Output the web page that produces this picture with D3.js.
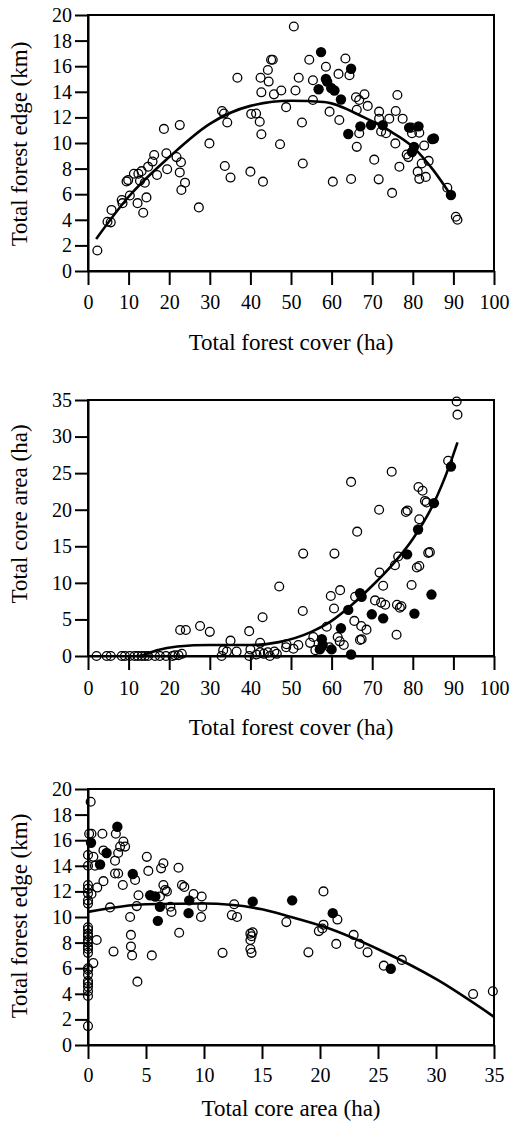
<!DOCTYPE html>
<html>
<head>
<meta charset="utf-8">
<script src="https://cdn.jsdelivr.net/npm/d3@7"></script>
<style>
  body { margin: 0; background: #fff; }
  svg { display: block; }
</style>
</head>
<body>
<div id="chart"></div>
<script>
// ---- data ----
const coverTicks = [0, 10, 20, 30, 40, 50, 60, 70, 80, 90, 100];
const edgeTicks  = [0, 2, 4, 6, 8, 10, 12, 14, 16, 18, 20];
const coreTicks  = [0, 5, 10, 15, 20, 25, 30, 35];

// panel 1: forest edge (km) vs forest cover (ha)
const edgeOpen = [
  [2.3,1.6],[4.8,3.85],[5.6,3.8],[5.8,4.77],[8.3,5.55],[8.5,5.3],[10.3,5.9],[9.5,7.0],[9.9,7.1],
  [11.3,7.6],[12.4,7.6],[13.2,7.8],[12.8,7.05],[14.0,6.9],[12.2,5.3],[13.6,4.55],[14.4,5.75],
  [14.8,8.15],[15.9,8.55],[16.3,9.06],[17.0,7.5],[18.7,11.1],[19.3,9.2],[19.5,7.95],[21.8,8.9],
  [22.6,11.4],[22.9,8.5],[22.6,7.7],[23.9,6.9],[23.0,6.33],[27.3,4.97],[29.9,9.97],[33.0,12.5],
  [33.5,12.3],[34.3,11.6],[33.7,8.2],[35.1,7.3],[36.8,15.1],[40.0,7.76],[40.2,12.27],[41.4,12.3],
  [42.3,11.66],[42.7,10.68],[43.1,6.98],[42.5,15.1],[44.3,15.7],[44.5,14.8],[45.1,16.5],[45.5,16.5],
  [45.8,13.8],[42.7,13.96],[47.3,9.9],[47.6,14.1],[48.8,12.8],[50.7,19.1],[51.1,14.1],[51.9,15.1],
  [52.7,11.6],[52.9,8.4],[54.5,16.5],[55.4,14.9],[55.4,13.36],[58.6,15.96],[59.5,12.45],[60.3,6.98],
  [61.7,15.4],[61.9,11.8],[63.4,16.6],[64.4,15.3],[64.8,7.19],[66.0,13.57],[66.8,13.36],[68.1,13.8],
  [68.9,12.9],[66.2,12.6],[66.8,10.76],[66.2,9.7],[70.5,8.7],[71.6,7.16],[71.7,12.45],[71.7,11.9],
  [72.2,10.9],[73.4,10.76],[74.2,11.9],[74.9,6.1],[75.7,9.97],[75.8,12.5],[76.2,13.75],[77.5,11.9],
  [76.7,8.15],[78.5,9.1],[78.9,8.9],[79.8,10.76],[79.6,11.2],[81.6,10.8],[82.8,9.8],[81.2,7.76],
  [81.6,7.2],[83.2,7.35],[83.9,8.6],[82.2,8.4],[88.5,6.5],[90.6,4.24],[91.0,4.0]
];
const edgeFilled = [
  [57.4,17.1],[64.8,15.8],[58.6,15.0],[58.9,14.8],[56.8,14.2],[59.9,14.3],[60.7,14.1],[62.3,13.4],
  [64.1,10.7],[67.1,11.3],[69.7,11.4],[72.6,11.4],[79.1,11.2],[81.4,11.3],[84.8,10.3],[85.2,10.35],
  [80.3,9.7],[79.8,9.3],[89.4,5.94]
];
const edgeFit = [
  [2,2.5],[10,5.8],[20,8.9],[30,11.5],[40,12.9],[50,13.3],[58,13.2],[68,12.0],[74,11.0],
  [80,9.7],[85,7.9],[89,6.1]
];

// panel 2: core area (ha) vs forest cover (ha)
const coreOpen = [
  [2.1,0],[4.6,0],[5.6,0],[8.3,0],[9.1,0],[10.3,0],[11.5,0],[12.3,0],[13.2,0],[14.0,0],[14.8,0],
  [16.5,0],[17.7,0],[19.2,0],[20.8,0],[21.4,0.1],[22.3,0.1],[23.1,0.3],
  [22.7,3.55],[24.1,3.55],[27.6,4.1],[30.0,3.3],[35.1,2.1],[34.2,0.6],[36.6,0.6],[32.9,0],[33.3,0.8],
  [39.7,3.4],[43.0,5.3],[47.1,9.5],[42.4,1.8],[40.0,0.9],[39.7,0],[42.4,0.5],[43.3,0.3],[44.3,0.5],
  [44.8,0],[45.9,0.6],[48.8,1.2],[41.5,0.2],[46.5,0.3],[50.6,1.0],[48.9,1.6],[51.8,1.5],[54.7,1.8],
  [90.8,34.8],[91.0,33.0],[88.7,26.7],[74.8,25.2],[64.8,23.8],[81.4,23.1],[82.4,22.6],[83.0,21.2],
  [83.4,21.0],[71.7,20.0],[78.3,19.7],[78.7,19.9],[81.6,18.7],[66.3,17.0],[53.0,14.0],[60.7,14.0],
  [76.4,13.6],[75.6,12.4],[81.0,12.1],[81.6,12.3],[83.8,14.1],[84.2,14.2],[71.8,11.4],[72.7,9.6],
  [79.7,9.7],[62.1,9.0],[59.8,8.2],[52.9,6.15],[60.6,6.5],[65.8,8.1],[70.7,7.6],[72.2,7.3],
  [73.2,7.0],[76.1,7.0],[76.8,6.6],[77.2,6.8],[76.0,2.9],[67.0,2.2],[65.6,4.8],[67.3,4.1],[68.6,3.6],
  [58.8,4.0],[55.5,2.6],[62.0,2.0],[67.4,2.3],[59.5,1.2],[61.5,2.6],[63.0,1.5],[56.0,0.8]
];
const coreFilled = [
  [89.4,25.9],[85.2,20.9],[81.3,17.3],[78.6,13.9],[84.6,8.4],[80.4,5.8],[67.0,8.6],[67.4,8.1],
  [64.1,6.3],[69.9,5.7],[72.7,5.15],[62.3,3.8],[57.6,2.3],[57.8,1.5],[57.1,0.9],[60.0,0.9],[64.8,0.2]
];
const coreFit = [
  [13,0],[17,0.8],[22,1.3],[30,1.5],[40,1.5],[47,1.9],[55,3.3],[60,4.8],[65,7.0],[70,9.6],
  [75,12.5],[80,16.0],[85,20.7],[89,26.0],[91,29.2]
];

// panel 3: forest edge (km) vs core area (ha)
const areaOpen = [
  [0.23,19.0],[0.1,16.5],[0.3,16.5],[0,14.84],[0,14.0],[0,12.5],[0,12.2],[0,11.85],[0,11.3],[0,11.05],
  [0,9.2],[0,9.0],[0,8.7],[0,8.5],[0,8.2],[0,8.0],[0,7.7],[0,7.5],[0,7.2],[0,6.0],[0,5.86],[0,5.5],
  [0,5.0],[0,4.8],[0,4.55],[0,4.2],[0,3.83],[0,1.48],
  [0.46,14.7],[0.6,14.0],[0.3,11.8],[1.24,16.5],[1.33,15.2],[0.8,12.3],[1.33,12.8],[0.46,6.4],
  [0.75,8.2],[1.9,10.75],[2.2,7.3],[2.33,14.4],[2.4,16.5],[2.6,15.0],[2.77,15.5],[3.05,15.9],
  [3.2,15.5],[2.33,13.4],[2.6,13.4],[3.0,12.5],[3.63,10.0],[3.7,8.6],[3.7,7.7],[3.8,7.0],[4.26,4.95],
  [4.2,10.85],[4.35,11.7],[4.06,12.9],[5.07,14.7],[5.2,13.6],[5.5,7.0],[6.5,14.2],[6.3,13.8],
  [6.65,12.1],[6.5,12.5],[6.8,12.0],[6.2,11.6],[7.1,10.8],[7.2,10.4],[7.8,13.85],[7.86,8.77],
  [8.1,12.5],[8.3,12.35],[9.1,11.8],[9.8,11.6],[9.85,10.8],[9.74,10.0],[11.6,7.2],[12.6,11.0],
  [12.4,10.15],[12.85,10.0],[14.0,8.7],[14.2,8.8],[14.1,8.5],[14.0,8.2],[14.0,7.5],[14.1,7.2],
  [17.1,9.6],[20.3,12.0],[19.9,8.9],[20.2,9.1],[20.3,9.4],[21.5,9.8],[19.0,7.24],[21.4,7.9],
  [22.9,8.6],[23.4,7.9],[24.1,7.24],[25.5,6.2],[27.05,6.65],[33.2,3.98],[34.9,4.2]
];
const areaFilled = [
  [2.53,17.05],[0.26,15.8],[1.6,15.0],[1.04,14.1],[3.86,13.36],[5.36,11.7],[5.8,11.6],[6.2,10.8],
  [6.02,9.7],[8.73,11.3],[8.67,10.3],[14.2,11.2],[17.6,11.3],[21.1,10.3],[26.1,5.96]
];
const areaFit = [
  [0,10.4],[5,11.0],[10,11.05],[15,10.6],[17.5,10.0],[20.3,9.25],[25.2,7.4],[30.1,5.1],[35,2.2]
];

const FONT = "'Liberation Serif', 'DejaVu Serif', serif";
const W = 512, H = 1127;
const svg = d3.select("#chart").append("svg").attr("width", W).attr("height", H);

function panel(cfg) {
  const x = d3.scaleLinear().domain(cfg.xDomain).range([88, 494]);
  const y = d3.scaleLinear().domain(cfg.yDomain).range([cfg.bottom, cfg.top]);
  const g = svg.append("g");

  // frame
  g.append("rect")
    .attr("x", 88).attr("y", cfg.top)
    .attr("width", 406).attr("height", cfg.bottom - cfg.top)
    .attr("fill", "none").attr("stroke", "#000").attr("stroke-width", 2);

  const xa = g.append("g").attr("transform", `translate(0,${cfg.bottom})`)
    .call(d3.axisBottom(x).tickValues(cfg.xTicks).tickSize(14).tickSizeOuter(0));
  xa.selectAll("text").attr("y", cfg.labelOff).attr("dy", "0.35em");

  const ya = g.append("g").attr("transform", "translate(88,0)")
    .call(d3.axisLeft(y).tickValues(cfg.yTicks).tickSize(13).tickPadding(3).tickSizeOuter(0));

  [xa, ya].forEach(a => {
    a.attr("font-family", FONT).attr("font-size", 20);
    a.selectAll("text").attr("fill", "#000");
    a.select(".domain").attr("stroke-width", 2);
    a.selectAll(".tick line").attr("stroke-width", 2);
  });

  g.append("text")
    .attr("x", 291).attr("y", cfg.bottom + cfg.titleOff)
    .attr("text-anchor", "middle").attr("dy", "0.35em")
    .attr("font-family", FONT).attr("font-size", 23).text(cfg.xTitle);

  g.append("text")
    .attr("transform", `translate(19,${cfg.yTitleY}) rotate(-90)`)
    .attr("text-anchor", "middle").attr("dy", "0.35em")
    .attr("font-family", FONT).attr("font-size", 23).text(cfg.yTitle);

  const line = d3.line().x(d => x(d[0])).y(d => y(d[1])).curve(d3.curveMonotoneX);
  g.append("path").datum(cfg.fit)
    .attr("d", line).attr("fill", "none")
    .attr("stroke", "#000").attr("stroke-width", 2.6);

  g.selectAll(".open").data(cfg.open).enter().append("circle")
    .attr("cx", d => x(d[0])).attr("cy", d => y(d[1])).attr("r", 4.4)
    .attr("fill", "none")
    .attr("stroke", "#000").attr("stroke-width", 1.3);

  g.selectAll(".filled").data(cfg.filled).enter().append("circle")
    .attr("cx", d => x(d[0])).attr("cy", d => y(d[1])).attr("r", 5.2)
    .attr("fill", "#000");
}

panel({
  top: 15, bottom: 271, xDomain: [0, 100], yDomain: [0, 20],
  xTicks: coverTicks, yTicks: edgeTicks, labelOff: 31, titleOff: 71, yTitleY: 144,
  xTitle: "Total forest cover (ha)", yTitle: "Total forest edge (km)",
  open: edgeOpen, filled: edgeFilled, fit: edgeFit
});
panel({
  top: 400, bottom: 656, xDomain: [0, 100], yDomain: [0, 35],
  xTicks: coverTicks, yTicks: coreTicks, labelOff: 32, titleOff: 71, yTitleY: 514,
  xTitle: "Total forest cover (ha)", yTitle: "Total core area (ha)",
  open: coreOpen, filled: coreFilled, fit: coreFit
});
panel({
  top: 789, bottom: 1045, xDomain: [0, 35], yDomain: [0, 20],
  xTicks: coreTicks, yTicks: edgeTicks, labelOff: 30, titleOff: 63, yTitleY: 916,
  xTitle: "Total core area (ha)", yTitle: "Total forest edge (km)",
  open: areaOpen, filled: areaFilled, fit: areaFit
});
</script>
</body>
</html>
